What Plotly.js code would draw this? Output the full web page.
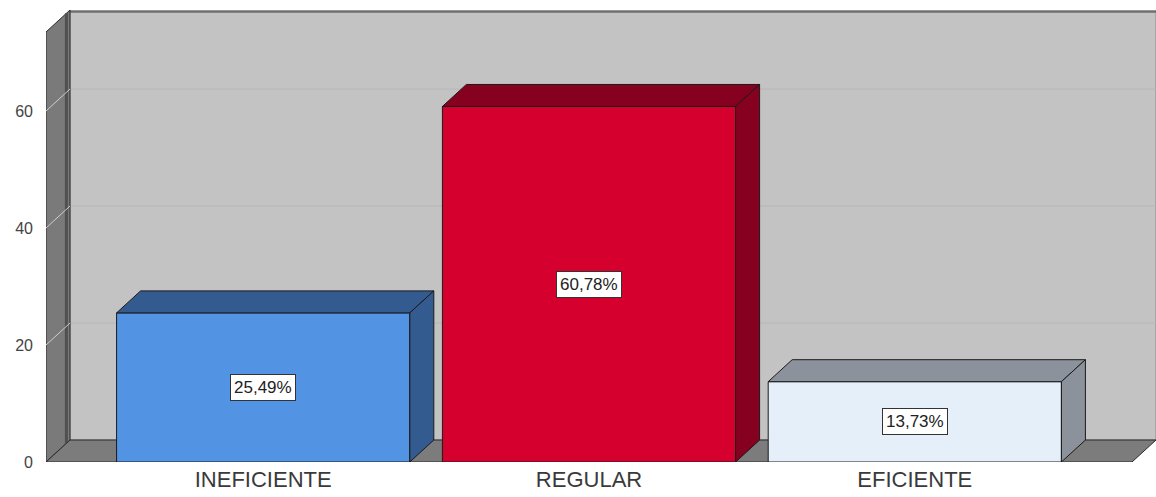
<!DOCTYPE html>
<html>
<head>
<meta charset="utf-8">
<script src="https://cdn.plot.ly/plotly-3.0.1.min.js"></script>
<style>html,body{margin:0;padding:0;background:#fff;}#chart{width:1156px;height:497px;}</style>
</head>
<body>
<div id="chart"></div>
<script>
// ---- data ----
const categories = ['INEFICIENTE', 'REGULAR', 'EFICIENTE'];
const percentages = [25.49, 60.78, 13.73];
const yTickValues = [0, 20, 40, 60];
const gridValues = [20, 40, 60];

// ---- style ----
const frontColors = ['#5393e3', '#d6002f', '#e5effa'];
const sideColors = ['#335b8f', '#86001f', '#8b929b'];
const BAR_W = 0.9;
const DX = 24 / 326;     // depth offset in x units
const DY = 22 / 5.85;    // depth offset in y units
const X0 = -0.5 - 1 / 6; // front-left edge of the box
const XF = 2.5 + 1 / 6;  // front-right edge of the floor
const XR = [X0, XF + DX];
const YR = [0, 77.27];

const xs = categories.map((c, i) => i);

const traces = [];
// front faces
traces.push({
  type: 'bar', x: xs, y: percentages, width: BAR_W,
  marker: {color: frontColors, line: {color: '#1a1a1a', width: 1}},
  hoverinfo: 'skip', showlegend: false
});
// top and side faces (3D effect), computed from values
percentages.forEach((v, i) => {
  const l = xs[i] - BAR_W / 2, r = xs[i] + BAR_W / 2;
  traces.push({
    type: 'scatter', mode: 'lines', fill: 'toself', fillcolor: sideColors[i],
    x: [l, r, r + DX, l + DX, l], y: [v, v, v + DY, v + DY, v],
    line: {color: '#1a1a1a', width: 1}, hoverinfo: 'skip', showlegend: false
  });
  traces.push({
    type: 'scatter', mode: 'lines', fill: 'toself', fillcolor: sideColors[i],
    x: [r, r + DX, r + DX, r, r], y: [0, DY, v + DY, v, 0],
    line: {color: '#1a1a1a', width: 1}, hoverinfo: 'skip', showlegend: false
  });
});

const shapes = [];
// back wall
shapes.push({type: 'rect', layer: 'below', xref: 'x', yref: 'y',
  x0: X0 + DX, x1: XF + DX, y0: DY, y1: YR[1],
  fillcolor: '#c3c3c3', line: {color: '#8a8a8a', width: 1}});
shapes.push({type: 'line', layer: 'below', xref: 'x', yref: 'y',
  x0: X0 + DX, x1: XF + DX, y0: YR[1] - 0.3, y1: YR[1] - 0.3,
  line: {color: '#6e6e6e', width: 2}});
// back wall gridlines
gridValues.forEach(v => {
  shapes.push({type: 'line', layer: 'below', xref: 'x', yref: 'y',
    x0: X0 + DX, x1: XF + DX, y0: v + DY, y1: v + DY,
    line: {color: '#b6b6b6', width: 1}});
});
// left wall
shapes.push({type: 'path', layer: 'below', xref: 'x', yref: 'y',
  path: `M ${X0},0 L ${X0 + DX},${DY} L ${X0 + DX},${YR[1]} L ${X0},${YR[1] - DY} Z`,
  fillcolor: '#7a7a7a', line: {color: '#2a2a2a', width: 1}});
shapes.push({type: 'line', layer: 'below', xref: 'x', yref: 'y',
  x0: X0 + DX * 0.85, x1: X0 + DX * 0.85, y0: DY * 0.85, y1: YR[1] - DY * 0.15,
  line: {color: '#505050', width: 3}});
gridValues.forEach(v => {
  shapes.push({type: 'line', layer: 'below', xref: 'x', yref: 'y',
    x0: X0, x1: X0 + DX, y0: v, y1: v + DY,
    line: {color: '#cfcfcf', width: 1}});
});
// floor
shapes.push({type: 'path', layer: 'below', xref: 'x', yref: 'y',
  path: `M ${X0},0 L ${XF},0 L ${XF + DX},${DY} L ${X0 + DX},${DY} Z`,
  fillcolor: '#7c7c7c', line: {color: '#2a2a2a', width: 1}});

const annotations = percentages.map((v, i) => ({
  x: xs[i], y: v / 2, xref: 'x', yref: 'y', showarrow: false,
  text: v.toFixed(2).replace('.', ',') + '%',
  font: {family: 'Liberation Sans, Arial, sans-serif', size: 17, color: '#222'},
  bgcolor: '#ffffff', bordercolor: '#333333', borderwidth: 1, borderpad: 3
}));

const layout = {
  width: 1156, height: 497,
  margin: {l: 46, r: 0, t: 10, b: 35, pad: 0},
  paper_bgcolor: '#ffffff', plot_bgcolor: '#ffffff',
  showlegend: false,
  xaxis: {
    range: XR, tickmode: 'array', tickvals: xs, ticktext: categories,
    showgrid: false, zeroline: false, showline: false, ticks: '',
    ticklabelstandoff: 2,
    tickfont: {family: 'Liberation Sans, Arial, sans-serif', size: 22, color: '#3a3a3a'},
    fixedrange: true
  },
  yaxis: {
    range: YR, tickmode: 'array', tickvals: yTickValues,
    showgrid: false, zeroline: false, showline: false, ticks: '',
    ticklabelstandoff: 12,
    tickfont: {family: 'Liberation Sans, Arial, sans-serif', size: 16, color: '#444'},
    fixedrange: true
  },
  shapes: shapes,
  annotations: annotations
};

Plotly.newPlot('chart', traces, layout, {displayModeBar: false, staticPlot: true});
</script>
</body>
</html>
